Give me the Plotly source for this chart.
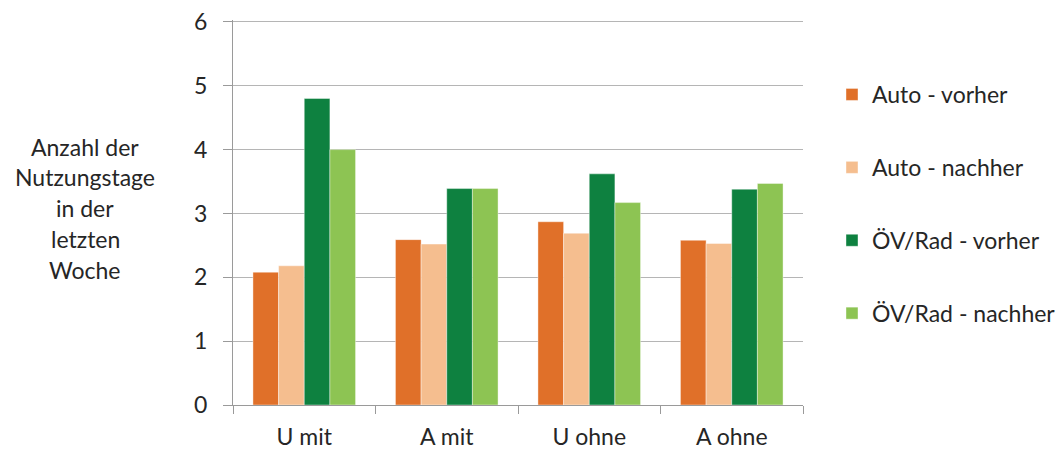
import plotly.graph_objects as go

categories = ["U mit", "A mit", "U ohne", "A ohne"]
auto_vorher = [2.08, 2.59, 2.87, 2.58]
auto_nachher = [2.18, 2.52, 2.69, 2.53]
oev_vorher = [4.80, 3.39, 3.62, 3.38]
oev_nachher = [4.00, 3.39, 3.17, 3.47]
series_names = ["Auto - vorher", "Auto - nachher", "ÖV/Rad - vorher", "ÖV/Rad - nachher"]
colors = ["#E07029", "#F5BE8F", "#0E8140", "#8DC453"]
y_title_lines = ["Anzahl der", "Nutzungstage", "in der", "letzten", "Woche"]

FONT = "Lato, 'Open Sans', sans-serif"
TXT = "#262626"
FS = 23

fig = go.Figure()
for i, (name, vals) in enumerate(zip(series_names, [auto_vorher, auto_nachher, oev_vorher, oev_nachher])):
    fig.add_trace(go.Bar(
        x=categories, y=vals, name=name, legendgroup=f"g{i}",
        marker=dict(color=colors[i], line=dict(color="rgba(255,255,255,0.5)", width=0.8)),
    ))

# page body has an 8px margin; compensate so the plot lands where intended
OFF = 8
W, H = 1064 - OFF, 450 - OFF
Y_TOP = 6.03  # slightly above 6 so the top gridline is drawn
# target: y=0 at window y 405, y=6 at window y 22  -> 63.83 px/unit
unit = (405 - 22) / 6
plot_top_win = round(405 - Y_TOP * unit)
ml, mt = 233 - OFF, plot_top_win - OFF
mr, mb = 1064 - 803, 450 - 405
plot_w = W - ml - mr
plot_h = H - mt - mb

def px_x(wx):
    return (wx - 233) / plot_w

def px_y(wy):
    return (405 - wy) / plot_h

annotations = []
line_y_px = [147, 177, 208, 239, 270]
for txt, py in zip(y_title_lines, line_y_px):
    annotations.append(dict(
        text=txt, xref="paper", yref="paper",
        x=px_x(85), y=px_y(py),
        xanchor="center", yanchor="middle", showarrow=False,
        font=dict(family=FONT, size=FS, color=TXT),
    ))

fig.update_layout(
    width=W, height=H,
    margin=dict(l=ml, r=mr, t=mt, b=mb, pad=0, autoexpand=False),
    paper_bgcolor="white", plot_bgcolor="white",
    barmode="group", bargap=0.28, bargroupgap=0,
    font=dict(family=FONT, size=FS, color=TXT),
    showlegend=True,
    legend=dict(
        x=px_x(832), y=px_y(73),
        xanchor="left", yanchor="top",
        traceorder="grouped", tracegroupgap=40,
        font=dict(family=FONT, size=FS, color=TXT),
        itemwidth=30, bgcolor="rgba(0,0,0,0)",
    ),
    annotations=annotations,
    xaxis=dict(
        automargin=False,
        showline=True, linecolor="#9a9a9a", linewidth=1,
        ticks="outside", tickson="boundaries", ticklen=8, tickcolor="#9a9a9a",
        tickfont=dict(family=FONT, size=FS, color=TXT),
        ticklabelstandoff=11,
        showgrid=False,
    ),
    yaxis=dict(
        automargin=False,
        range=[0, Y_TOP], tickvals=[0, 1, 2, 3, 4, 5, 6],
        showline=True, linecolor="#9a9a9a", linewidth=1,
        ticks="outside", ticklen=9, tickcolor="#9a9a9a",
        showgrid=True, gridcolor="#b5b5b5", gridwidth=1,
        zeroline=False,
        tickfont=dict(family=FONT, size=FS, color=TXT),
        ticklabelstandoff=11,
        ticklabeloverflow="allow",
    ),
)

fig.write_html("out.html")
